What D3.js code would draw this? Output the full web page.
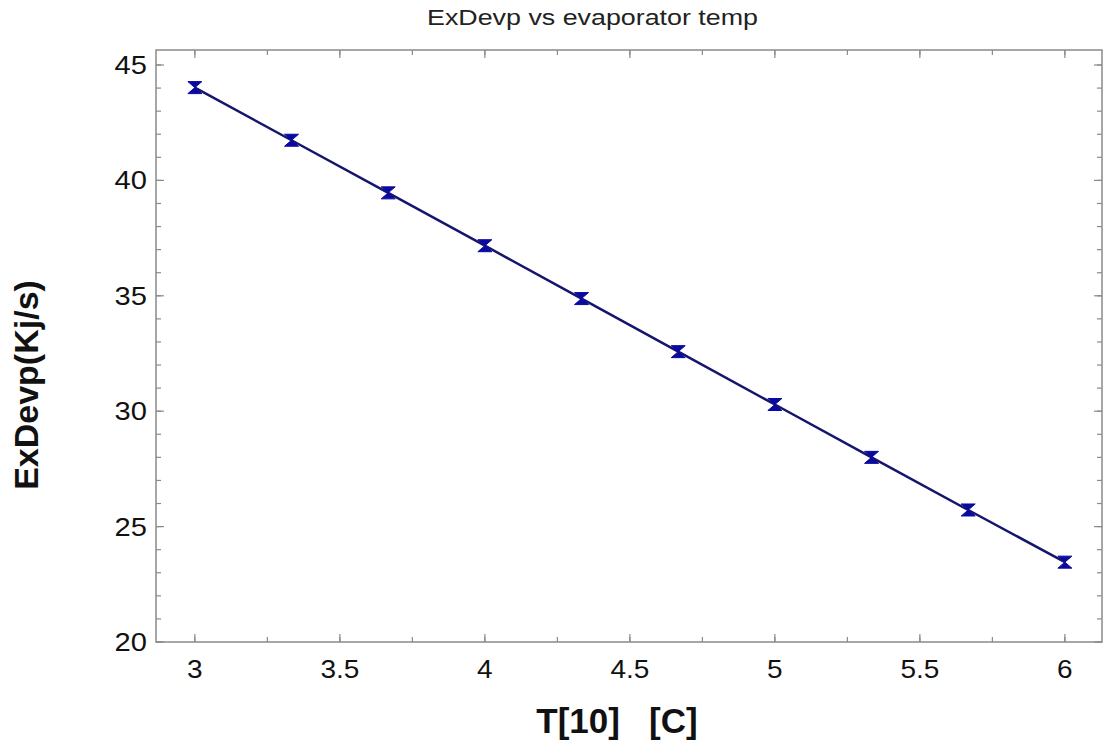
<!DOCTYPE html>
<html lang="en">
<head>
<meta charset="UTF-8">
<title>ExDevp vs evaporator temp</title>
<script src="https://cdn.jsdelivr.net/npm/d3@7"></script>
<style>
  body { margin: 0; background: #fff; }
  text { font-family: "Liberation Sans", Arial, sans-serif; }
</style>
</head>
<body>
<svg width="1107" height="749"></svg>
<script>
// data
var temps = [3, 3.3333, 3.6667, 4, 4.3333, 4.6667, 5, 5.3333, 5.6667, 6];
var exDevp = [44.02, 41.74, 39.46, 37.17, 34.88, 32.58, 30.29, 28.0, 25.72, 23.46];
var xTicks = [3, 3.5, 4, 4.5, 5, 5.5, 6];
var yTicks = [20, 25, 30, 35, 40, 45];

var svg = d3.select("svg");
var pLeft = 156, pRight = 1102, pTop = 50, pBottom = 642;

var x = d3.scaleLinear().domain([2.866, 6.128]).range([pLeft, pRight]);
var y = d3.scaleLinear().domain([20, 45.65]).range([pBottom, pTop]);

var frameColor = "#8a8a8a";

// minor ticks
var xMinor = d3.range(3, 6.01, 0.25);
var yMinor = d3.range(20, 45.01, 1);

var g = svg.append("g");

function addTicks(vals, scale, horizontal, len) {
    vals.forEach(function (v) {
        var p = scale(v);
        if (horizontal) {
            g.append("line").attr("x1", p).attr("x2", p).attr("y1", pBottom).attr("y2", pBottom - len)
                .attr("stroke", frameColor).attr("stroke-width", 1.2);
            g.append("line").attr("x1", p).attr("x2", p).attr("y1", pTop).attr("y2", pTop + len)
                .attr("stroke", frameColor).attr("stroke-width", 1.2);
        } else {
            g.append("line").attr("y1", p).attr("y2", p).attr("x1", pLeft).attr("x2", pLeft + len)
                .attr("stroke", frameColor).attr("stroke-width", 1.2);
            g.append("line").attr("y1", p).attr("y2", p).attr("x1", pRight).attr("x2", pRight - len)
                .attr("stroke", frameColor).attr("stroke-width", 1.2);
        }
    });
}
addTicks(xMinor, x, true, 5);
addTicks(xTicks, x, true, 8);
addTicks(yMinor, y, false, 5);
addTicks(yTicks, y, false, 8);

// frame
svg.append("rect")
    .attr("x", pLeft).attr("y", pTop)
    .attr("width", pRight - pLeft).attr("height", pBottom - pTop)
    .attr("fill", "none").attr("stroke", frameColor).attr("stroke-width", 1.5);

// tick labels (picture is slightly stretched sideways)
svg.selectAll(".xl").data(xTicks).enter().append("text")
    .attr("transform", function (d) { return "translate(" + x(d) + "," + (pBottom + 36) + ") scale(1.12,1)"; })
    .attr("text-anchor", "middle")
    .attr("font-size", 25)
    .attr("fill", "#111")
    .text(function (d) { return d; });

svg.selectAll(".yl").data(yTicks).enter().append("text")
    .attr("transform", function (d) { return "translate(" + (pLeft - 9) + "," + (y(d) + 9) + ") scale(1.12,1)"; })
    .attr("text-anchor", "end")
    .attr("font-size", 26)
    .attr("fill", "#111")
    .text(function (d) { return d; });

// title and axis labels
svg.append("text").attr("x", 427).attr("y", 25)
    .attr("textLength", 331).attr("lengthAdjust", "spacingAndGlyphs")
    .attr("font-size", 22).attr("fill", "#222").text("ExDevp vs evaporator temp");

svg.append("text").attr("x", 617).attr("y", 733).attr("text-anchor", "middle")
    .attr("font-size", 35).attr("font-weight", "bold").attr("fill", "#111")
    .attr("xml:space", "preserve").style("white-space", "pre")
    .text("T[10]   [C]");

svg.append("text")
    .attr("transform", "translate(38,385) rotate(-90)")
    .attr("text-anchor", "middle")
    .attr("font-size", 34).attr("font-weight", "bold").attr("fill", "#111")
    .text("ExDevp(Kj/s)");

// line
var pts = temps.map(function (t, i) { return [t, exDevp[i]]; });
svg.append("path")
    .datum(pts)
    .attr("d", d3.line().x(function (d) { return x(d[0]); }).y(function (d) { return y(d[1]); }))
    .attr("fill", "none")
    .attr("stroke", "#15156e")
    .attr("stroke-width", 2.5);

// hourglass markers
svg.selectAll(".mk").data(pts).enter().append("path")
    .attr("transform", function (d) { return "translate(" + x(d[0]) + "," + y(d[1]) + ")"; })
    .attr("d", "M-7,-6 L7,-6 L0,0 L7,6 L-7,6 L0,0 Z")
    .attr("fill", "#0a0aa0")
    .attr("stroke", "#0a0aa0")
    .attr("stroke-width", 1);
</script>
</body>
</html>
